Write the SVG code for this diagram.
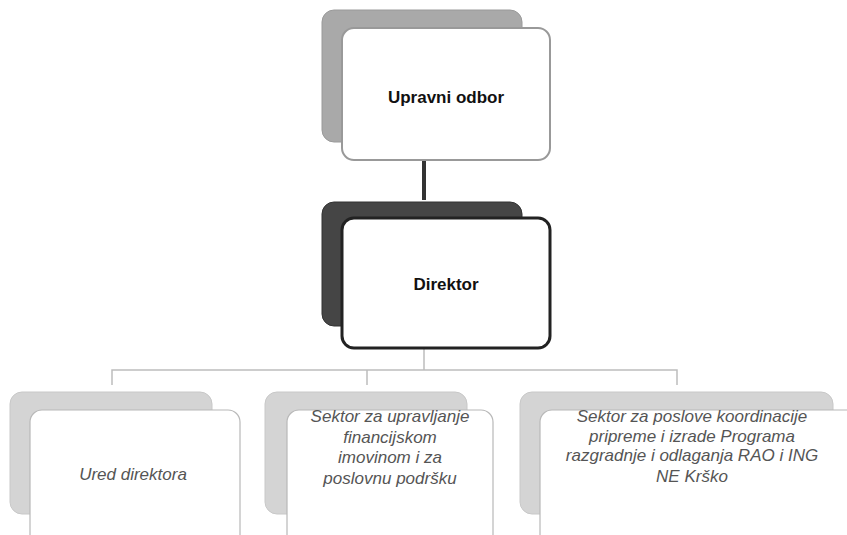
<svg xmlns="http://www.w3.org/2000/svg" width="847" height="535" viewBox="0 0 847 535">
<style>
.bg{fill:#ffffff}
.t{font-family:"Liberation Sans",Arial,sans-serif;text-anchor:middle}
.tb{font-weight:bold;font-size:17px;fill:#111}
.ti{font-style:italic;font-size:17px;fill:#555}
.lvl3b{fill:#d4d4d4;stroke:#c8c8c8;stroke-width:1}
.lvl3f{fill:#ffffff;stroke:#b8b8b8;stroke-width:1.2}
</style>
<rect class="bg" x="0" y="0" width="847" height="535"/>
<g id="connectors">
<line x1="424" y1="160" x2="424" y2="200" stroke="#333" stroke-width="4"/>
<path d="M424 348 V370 M112 385 V370 H677 V385 M367 370 V385" fill="none" stroke="#bdbdbd" stroke-width="1.5"/>
</g>
<g id="upravni-odbor">
<rect x="322" y="10" width="200" height="132" rx="12" fill="#a9a9a9" stroke="#9a9a9a"/>
<rect x="342" y="28" width="208" height="132" rx="12" fill="#fff" stroke="#999" stroke-width="2"/>
<text class="t tb" x="446" y="103">Upravni odbor</text>
</g>
<g id="direktor">
<rect x="322" y="202" width="200" height="124" rx="12" fill="#454545" stroke="#333"/>
<rect x="342" y="218" width="208" height="130" rx="12" fill="#fff" stroke="#222" stroke-width="3"/>
<text class="t tb" x="446" y="290">Direktor</text>
</g>
<g id="ured-direktora">
<rect class="lvl3b" x="10" y="392" width="202" height="122" rx="12"/>
<rect class="lvl3f" x="30" y="410" width="210" height="140" rx="12"/>
<text class="t ti" x="133" y="480">Ured direktora</text>
</g>
<g id="sektor-financije">
<rect class="lvl3b" x="265" y="392" width="202" height="122" rx="12"/>
<rect class="lvl3f" x="287" y="410" width="206" height="140" rx="12"/>
<text class="t ti" x="390" y="422">Sektor za upravljanje</text>
<text class="t ti" x="390" y="443">financijskom</text>
<text class="t ti" x="390" y="463">imovinom i za</text>
<text class="t ti" x="390" y="484">poslovnu podršku</text>
</g>
<g id="sektor-koordinacija">
<rect class="lvl3b" x="520" y="392" width="313" height="122" rx="12"/>
<rect class="lvl3f" x="540" y="410" width="321" height="140" rx="12"/>
<text class="t ti" x="692" y="422">Sektor za poslove koordinacije</text>
<text class="t ti" x="692" y="442">pripreme i izrade Programa</text>
<text class="t ti" x="692" y="461">razgradnje i odlaganja RAO i ING</text>
<text class="t ti" x="692" y="482">NE Krško</text>
</g>
</svg>
